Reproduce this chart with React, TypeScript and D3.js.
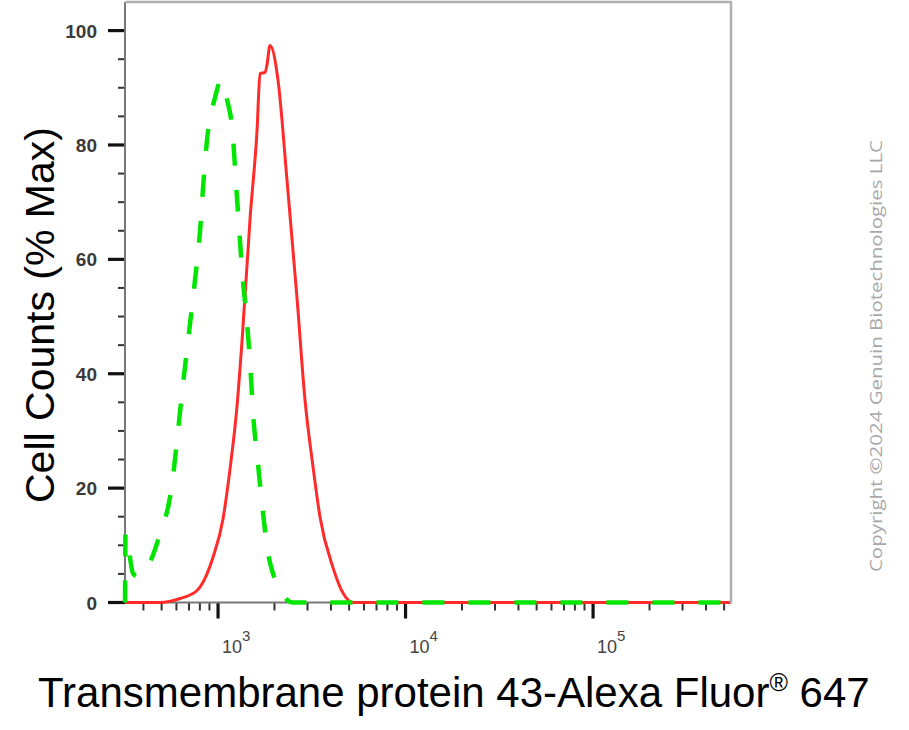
import React from "react";
import * as d3 from "d3";

// ---- data (fluorescence intensity, % of max) ----
const isotypeX = [319, 321, 352, 374, 398, 445, 502, 541, 569, 604, 650, 692, 753, 802, 832, 873, 964, 1037, 1117, 1189, 1262, 1358, 1429, 1483, 1538, 1633, 1738, 1849, 1963, 2193, 2512, 544000];
const isotypeY = [0, 12.1, 5.1, 4.5, 5.1, 7.9, 13.1, 16.6, 20.8, 28.3, 38.1, 45.8, 56.3, 65.0, 72.6, 80.8, 88.3, 91.3, 87.9, 83.0, 70.8, 56.3, 48.8, 41.8, 33.0, 24.3, 15.6, 8.6, 5.1, 1.6, 0, 0];

const stainedX = [319, 491, 627, 773, 940, 1064, 1159, 1262, 1343, 1483, 1614, 1675, 1782, 1824, 1892, 2089, 2333, 2636, 2911, 3214, 3499, 4102, 4645, 5248, 544000];
const stainedY = [0, 0, 0.7, 2.1, 7.9, 14.7, 23.4, 34.3, 45.8, 67.3, 82.5, 92.5, 92.7, 94.0, 97.4, 91.3, 73.8, 53.3, 35.3, 23.6, 14.9, 6.1, 1.6, 0, 0];

const yMajorTicks = [0, 20, 40, 60, 80, 100];
const yMinorTicks = [5, 10, 15, 25, 30, 35, 45, 50, 55, 65, 70, 75, 85, 90, 95];
const xDecades = [3, 4, 5];
const xDomain = [319, 544000];
const yDomain = [0, 105];

const xTitle = "Transmembrane protein 43-Alexa Fluor";
const yTitle = "Cell Counts (% Max)";
const copyright = "Copyright \u00A92024 Genuin Biotechnologies LLC";

const FONT = "'Liberation Sans', Arial, sans-serif";

export default function App() {
  const left = 125, right = 731, top = 2, bottom = 602.5;
  const x = d3.scaleLog().domain(xDomain).range([left, right]);
  const y = d3.scaleLinear().domain(yDomain).range([bottom, top]);

  const line = d3
    .line<[number, number]>()
    .x((d) => x(d[0]))
    .y((d) => y(d[1]))
    .curve(d3.curveMonotoneX);

  const iso = isotypeX.map((v, i) => [v, isotypeY[i]] as [number, number]);
  const st = stainedX.map((v, i) => [v, stainedY[i]] as [number, number]);

  const minorX: number[] = [];
  for (let d = 2; d <= 5; d++) {
    for (let k = 2; k <= 9; k++) {
      const v = k * Math.pow(10, d);
      if (v >= xDomain[0] && v <= xDomain[1]) minorX.push(v);
    }
  }

  return (
    <svg
      width={909}
      height={730}
      style={{ position: "absolute", left: 0, top: 0, background: "#fff" }}
    >
      <rect x={0} y={0} width={909} height={730} fill="#fff" />
      {/* y axis ticks */}
      {yMinorTicks.map((t) => (
        <line key={"ym" + t} x1={118} x2={left} y1={y(t)} y2={y(t)} stroke="#333" strokeWidth={2} />
      ))}
      {yMajorTicks.map((t) => (
        <g key={"yM" + t}>
          <line x1={108} x2={left} y1={y(t)} y2={y(t)} stroke="#111" strokeWidth={3.2} />
          <text
            x={97}
            y={y(t) + 7}
            textAnchor="end"
            fontFamily={FONT}
            fontSize={19}
            fontWeight="bold"
            fill="#3a3a3a"
          >
            {t}
          </text>
        </g>
      ))}
      {/* x axis ticks */}
      {minorX.map((v) => (
        <line key={"xm" + v} x1={x(v)} x2={x(v)} y1={bottom} y2={bottom + 8} stroke="#333" strokeWidth={2} />
      ))}
      {xDecades.map((d) => (
        <g key={"xM" + d}>
          <line
            x1={x(Math.pow(10, d))}
            x2={x(Math.pow(10, d))}
            y1={bottom}
            y2={bottom + 16}
            stroke="#111"
            strokeWidth={3.2}
          />
          <text x={x(Math.pow(10, d)) + 4} y={653} fontFamily={FONT} fontSize={18} fill="#444">
            10
            <tspan fontSize={15} dy={-12}>
              {d}
            </tspan>
          </text>
        </g>
      ))}
      {/* axis lines */}
      <line x1={left} x2={left} y1={top} y2={bottom} stroke="#777" strokeWidth={2} />
      <line x1={left} x2={right} y1={bottom} y2={bottom} stroke="#777" strokeWidth={2} />
      {/* curves */}
      <path d={line(st) || ""} fill="none" stroke="#ff2b2b" strokeWidth={3} strokeLinejoin="round" />
      <path
        d={line(iso) || ""}
        fill="none"
        stroke="#00e600"
        strokeWidth={4.5}
        strokeDasharray="22 24"
      />
      {/* frame */}
      <line x1={left} x2={right + 1} y1={top} y2={top} stroke="#b0b0b0" strokeWidth={2.5} />
      <line x1={right} x2={right} y1={top} y2={bottom + 1} stroke="#b0b0b0" strokeWidth={2.5} />
      {/* titles */}
      <text
        transform="translate(54,503) rotate(-90)"
        fontFamily={FONT}
        fontSize={40}
        fill="#000"
        textLength={376}
        lengthAdjust="spacingAndGlyphs"
      >
        {yTitle}
      </text>
      <text x={38} y={707} fontFamily={FONT} fontSize={42} fill="#000">
        {xTitle}
        <tspan fontSize={25} dy={-16}>
          {"\u00AE"}
        </tspan>
        <tspan dy={16}>{" 647"}</tspan>
      </text>
      <text
        transform="translate(882,572) rotate(-90)"
        fontFamily="'Open Sans', sans-serif"
        fontSize={17}
        fill="#a8a8a8"
        textLength={432}
        lengthAdjust="spacingAndGlyphs"
      >
        {copyright}
      </text>
    </svg>
  );
}
